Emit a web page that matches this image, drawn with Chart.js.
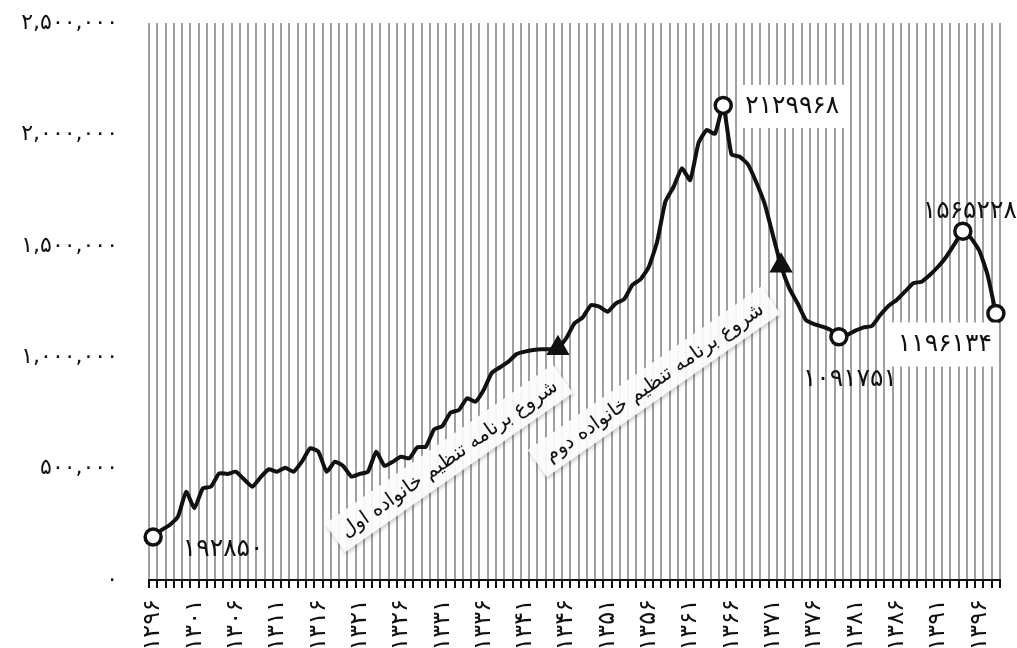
<!DOCTYPE html>
<html lang="fa">
<head>
<meta charset="utf-8">
<script src="https://cdn.jsdelivr.net/npm/chart.js@4.4.1/dist/chart.umd.min.js"></script>
<style>
  html, body { margin: 0; padding: 0; background: #fff; }
  #wrap { width: 1017px; height: 648px; }
</style>
</head>
<body>
<div id="wrap"><canvas id="plot" width="1017" height="648"></canvas></div>
<script>
// سال‌ها
const years = [
  1296, 1297, 1298, 1299, 1300, 1301, 1302, 1303, 1304, 1305,
  1306, 1307, 1308, 1309, 1310, 1311, 1312, 1313, 1314, 1315,
  1316, 1317, 1318, 1319, 1320, 1321, 1322, 1323, 1324, 1325,
  1326, 1327, 1328, 1329, 1330, 1331, 1332, 1333, 1334, 1335,
  1336, 1337, 1338, 1339, 1340, 1341, 1342, 1343, 1344, 1345,
  1346, 1347, 1348, 1349, 1350, 1351, 1352, 1353, 1354, 1355,
  1356, 1357, 1358, 1359, 1360, 1361, 1362, 1363, 1364, 1365,
  1366, 1367, 1368, 1369, 1370, 1371, 1372, 1373, 1374, 1375,
  1376, 1377, 1378, 1379, 1380, 1381, 1382, 1383, 1384, 1385,
  1386, 1387, 1388, 1389, 1390, 1391, 1392, 1393, 1394, 1395,
  1396, 1397, 1398
];

// تعداد موالید (برآورد از روی نمودار)
const births = [
  192850, 224000, 247000, 284000, 396000, 322000, 411000, 419000, 479000, 476000,
  486000, 452000, 419000, 461000, 497000, 486000, 504000, 486000, 531000, 591000,
  576000, 486000, 531000, 512000, 464000, 476000, 486000, 576000, 512000, 531000,
  553000, 546000, 596000, 598000, 676000, 691000, 751000, 763000, 816000, 800000,
  853000, 930000, 955000, 980000, 1014000, 1025000, 1032000, 1036000, 1036000, 1040000,
  1085000, 1152000, 1179000, 1234000, 1227000, 1204000, 1242000, 1260000, 1324000, 1350000,
  1406000, 1518000, 1698000, 1765000, 1848000, 1795000, 1960000, 2020000, 2002000, 2129968,
  1910000, 1900000, 1865000, 1785000, 1690000, 1550000, 1410000, 1309000, 1242000, 1167000,
  1148000, 1137000, 1122000, 1091751, 1100000, 1119000, 1134000, 1140000, 1189000, 1230000,
  1257000, 1294000, 1332000, 1339000, 1369000, 1406000, 1451000, 1508000, 1565228, 1534000,
  1478000, 1369000, 1196134
];

const yTickValues = [0, 500000, 1000000, 1500000, 2000000, 2500000];
const yTickLabels = ['۰', '۵۰۰,۰۰۰', '۱,۰۰۰,۰۰۰', '۱,۵۰۰,۰۰۰', '۲,۰۰۰,۰۰۰', '۲,۵۰۰,۰۰۰'];
const xTickLabels = ['۱۲۹۶', '۱۳۰۱', '۱۳۰۶', '۱۳۱۱', '۱۳۱۶', '۱۳۲۱', '۱۳۲۶', '۱۳۳۱', '۱۳۳۶', '۱۳۴۱', '۱۳۴۶',
  '۱۳۵۱', '۱۳۵۶', '۱۳۶۱', '۱۳۶۶', '۱۳۷۱', '۱۳۷۶', '۱۳۸۱', '۱۳۸۶', '۱۳۹۱', '۱۳۹۶'];

// نقاط مشخص شده
const circleYears = [1296, 1365, 1379, 1394, 1398];
const circleLabels = ['۱۹۲۸۵۰', '۲۱۲۹۹۶۸', '۱۰۹۱۷۵۱', '۱۵۶۵۲۲۸', '۱۱۹۶۱۳۴'];
const triangleYears = [1345, 1372];
const programNotes = ['شروع برنامه تنظیم خانواده اول', 'شروع برنامه تنظیم خانواده دوم'];

let faDigits = (s) => String(s).replace(/[0-9]/g, d => '۰۱۲۳۴۵۶۷۸۹'[d]);

let pointStyles = years.map(y => triangleYears.includes(y) ? 'triangle' : 'circle');
let pointRadii = years.map(y => circleYears.includes(y) ? 8 : (triangleYears.includes(y) ? 10 : 0));
let pointFills = years.map(y => triangleYears.includes(y) ? '#111' : '#fff');

Chart.defaults.font.family = 'DejaVu Sans';

// جای برچسب‌ها نسبت به نقطه
const labelPlace = [
  { dx: 70, dy: 12 },
  { dx: 69, dy: 1, w: 105, h: 43 },
  { dx: 11, dy: 43 },
  { dx: 7, dy: -20 },
  { dx: -51, dy: 31, w: 107, h: 44 }
];
const notePlace = [
  { dx: -109, dy: 110, w: 278, h: 35 },
  { dx: -127, dy: 116, w: 285, h: 33 }
];

let notesPlugin = {
  id: 'notes',
  beforeDatasetsDraw(chart) {
    const ctx = chart.ctx, xs = chart.scales.x, ys = chart.scales.y;
    triangleYears.forEach((yr, k) => {
      const i = years.indexOf(yr);
      const p = notePlace[k];
      const cx = xs.getPixelForValue(i) + p.dx;
      const cy = ys.getPixelForValue(births[i]) + p.dy;
      ctx.save();
      ctx.translate(cx, cy);
      ctx.rotate(-35 * Math.PI / 180);
      ctx.shadowColor = 'rgba(0,0,0,0.25)';
      ctx.shadowBlur = 4;
      ctx.shadowOffsetX = 1;
      ctx.shadowOffsetY = 2;
      ctx.fillStyle = 'rgba(255,255,255,0.92)';
      ctx.fillRect(-p.w / 2, -p.h / 2, p.w, p.h);
      ctx.shadowColor = 'transparent';
      ctx.fillStyle = '#111';
      ctx.font = '20px "DejaVu Sans"';
      let tw = ctx.measureText(programNotes[k]).width;
      let size = Math.min(20, 20 * (p.w - 18) / tw);
      ctx.font = size.toFixed(1) + 'px "DejaVu Sans"';
      ctx.textAlign = 'center';
      ctx.textBaseline = 'middle';
      ctx.fillText(programNotes[k], 0, 1);
      ctx.restore();
    });
  },
  afterDatasetsDraw(chart) {
    const ctx = chart.ctx, xs = chart.scales.x, ys = chart.scales.y;
    circleYears.forEach((yr, k) => {
      const i = years.indexOf(yr);
      const p = labelPlace[k];
      const cx = xs.getPixelForValue(i) + p.dx;
      const cy = ys.getPixelForValue(births[i]) + p.dy;
      ctx.save();
      if (p.w) {
        ctx.fillStyle = '#fff';
        ctx.fillRect(cx - p.w / 2, cy - p.h / 2, p.w, p.h);
      }
      ctx.fillStyle = '#111';
      ctx.font = '25px "DejaVu Sans"';
      ctx.textAlign = 'center';
      ctx.textBaseline = 'middle';
      ctx.fillText(circleLabels[k], cx, cy);
      ctx.restore();
    });
  }
};

let config = {
  type: 'line',
  data: {
    labels: years,
    datasets: [{
      data: births,
      borderColor: '#111',
      borderWidth: 4,
      tension: 0.15,
      pointStyle: pointStyles,
      pointRadius: pointRadii,
      pointBackgroundColor: pointFills,
      pointBorderColor: '#111',
      pointBorderWidth: 3.5
    }]
  },
  options: {
    responsive: false,
    animation: false,
    events: [],
    layout: { padding: { top: 23, right: 17, left: 0, bottom: 0 } },
    plugins: { legend: { display: false }, tooltip: { enabled: false } },
    scales: {
      x: {
        offset: true,
        grid: { offset: true, color: '#a0a0a0', lineWidth: 2, tickColor: '#111', tickLength: 8, tickWidth: 2 },
        border: { color: '#111', width: 2 },
        ticks: {
          autoSkip: false, maxRotation: 90, minRotation: 90, padding: 11,
          color: '#111', font: { size: 24 },
          callback: (v, i) => {
            let t = faDigits(years[i]);
            return xTickLabels.includes(t) ? t : '';
          }
        },
        afterFit: (s) => { s.height = 68; s.paddingLeft = 0; s.paddingRight = 0; }
      },
      y: {
        min: 0, max: 2500000,
        afterBuildTicks: (s) => { s.ticks = yTickValues.map(v => ({ value: v })); },
        grid: { display: false, drawTicks: false },
        border: { display: false },
        ticks: {
          padding: 31, color: '#111', font: { size: 22 },
          callback: (v) => yTickLabels[yTickValues.indexOf(v)]
        },
        afterFit: (s) => { s.width = 149; s.paddingTop = 0; s.paddingBottom = 0; }
      }
    }
  },
  plugins: [notesPlugin]
};

let chart1 = new Chart(document.getElementById('plot'), config);
</script>
</body>
</html>
